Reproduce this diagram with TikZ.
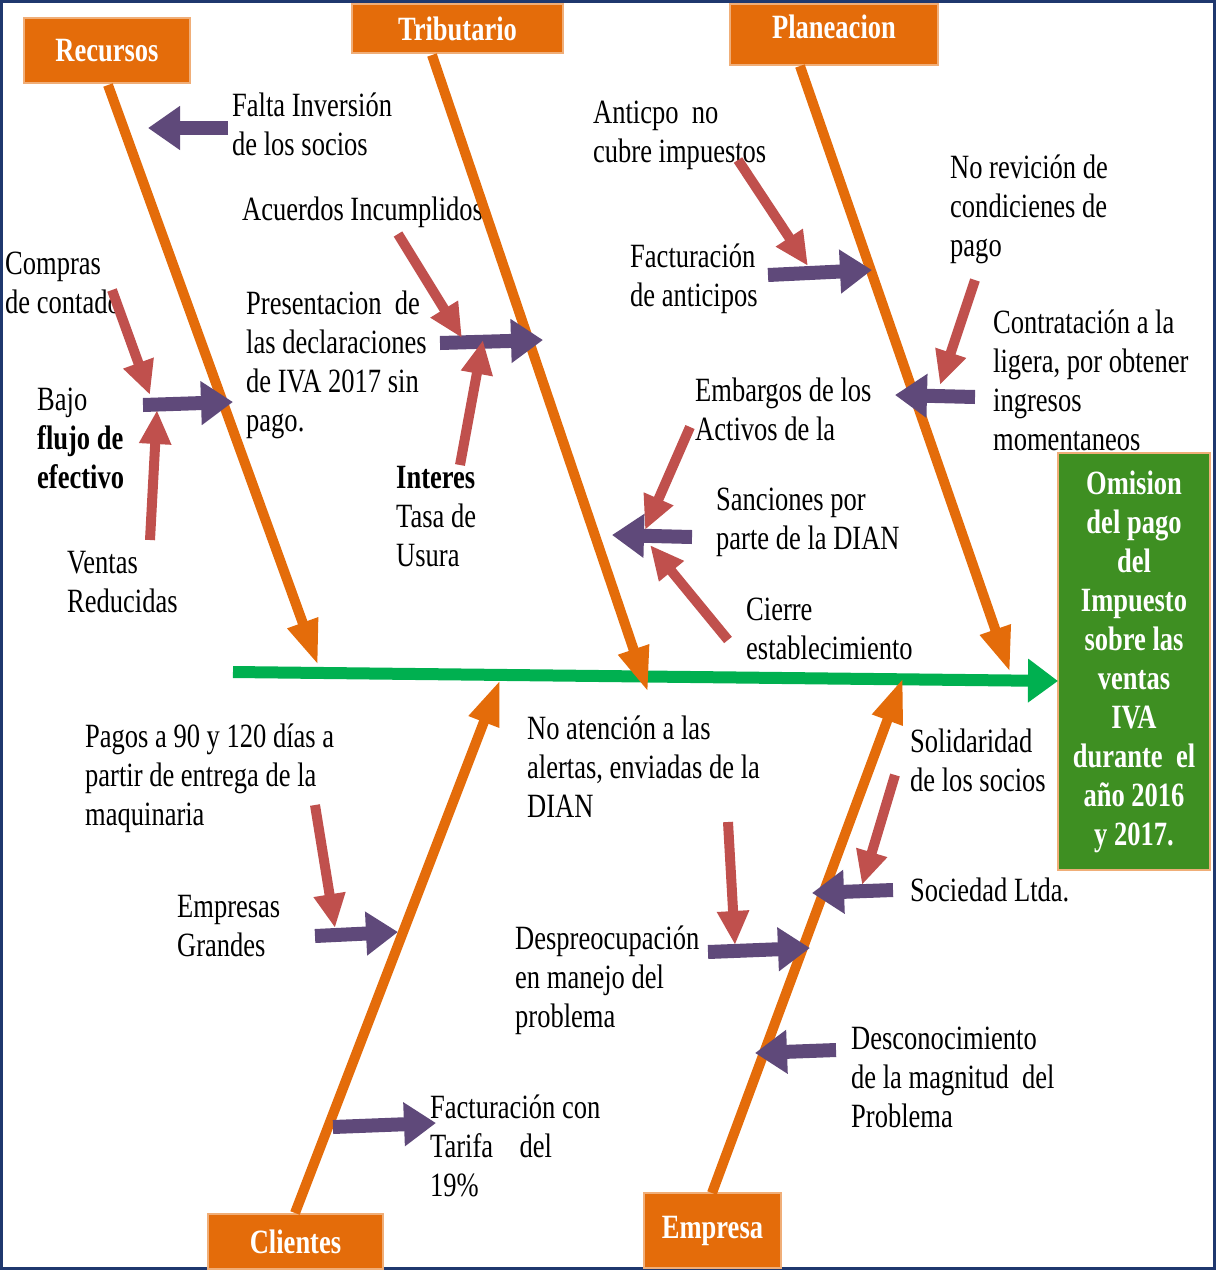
\documentclass[tikz,border=0pt]{standalone}
\usepackage{fontspec}
\setmainfont{Liberation Serif}[FakeStretch=0.78]
\usetikzlibrary{arrows.meta}
\definecolor{bone}{RGB}{228,108,10}
\definecolor{spine}{RGB}{0,176,80}
\definecolor{cause}{RGB}{95,73,122}
\definecolor{subcause}{RGB}{192,80,77}
\definecolor{effect}{RGB}{62,143,34}
\definecolor{frame}{RGB}{31,56,110}

\tikzset{
  lbl/.style={anchor=north west, inner sep=0pt, align=left,
    font=\fontsize{34}{39}\selectfont, execute at begin node=\strut},
  head/.style={fill=bone, draw=bone!55!white, line width=1.5pt, text=white,
    font=\fontsize{34}{39}\selectfont\bfseries, inner sep=0pt},
  bonearrow/.style={draw=bone, line width=10pt, -{Triangle[length=45pt,width=30pt]}},
  causearrow/.style={draw=cause, line width=14pt, -{Triangle[length=32pt,width=42pt]}},
  subarrow/.style={draw=subcause, line width=10pt, -{Triangle[length=34pt,width=30pt]}}
}

\begin{document}
\begin{tikzpicture}[x=1pt, y=-1pt]
  \useasboundingbox (0,0) rectangle (1216,1270);
  \draw[frame, line width=3pt] (1.5,1.5) rectangle (1214.5,1268.5);

  % heads and effect
  \node[head, minimum width=166pt, minimum height=65pt] (rec) at (107,50.5) {Recursos};
  \node[head, minimum width=211pt, minimum height=49pt] (tri) at (457.5,28.5) {Tributario};
  \node[head, minimum width=208pt, minimum height=61pt, text height=24pt, text depth=17pt] (pla) at (834,34.5) {Planeacion};
  \node[head, minimum width=175pt, minimum height=55pt] (cli) at (295.5,1241.5) {Clientes};
  \node[head, minimum width=137pt, minimum height=75pt] (emp) at (712.5,1230.5) {Empresa};
  \node[head, fill=effect, minimum width=152pt, minimum height=417pt, align=center] (eff) at (1134,661.5)
    {Omision\\del pago\\del\\Impuesto\\sobre las\\ventas\\IVA\\durante\ \ el\\año 2016\\y 2017.};

  % labels
  \node[lbl] (falta) at (232,93) {Falta Inversión\\de los socios};
  \node[lbl] (acu) at (242,193) {Acuerdos Incumplidos};
  \node[lbl] (com) at (5,252) {Compras\\de contado};
  \node[lbl] (baj) at (37,388) {Bajo\\\textbf{flujo de}\\\textbf{efectivo}};
  \node[lbl] (ven) at (67,551) {Ventas\\Reducidas};
  \node[lbl] (pre) at (246,291) {Presentacion\ \ de\\las declaraciones\\de IVA 2017 sin\\pago.};
  \node[lbl] (int) at (396,466) {\textbf{Interes}\\Tasa de\\Usura};
  \node[lbl] (ant) at (593,101) {Anticpo\ \ no\\cubre impuestos};
  \node[lbl] (fac) at (630,244) {Facturación\\de anticipos};
  \node[lbl] (rev) at (950,155) {No revición de\\condicienes de\\pago};
  \node[lbl] (con) at (993,310) {Contratación a la\\ligera, por obtener\\ingresos\\momentaneos};
  \node[lbl] (emb) at (695,378) {Embargos de los\\Activos de la};
  \node[lbl] (san) at (716,488) {Sanciones por\\parte de la DIAN};
  \node[lbl] (cie) at (746,598) {Cierre\\establecimiento};
  \node[lbl] (pag) at (85,724) {Pagos a 90 y 120 días a\\partir de entrega de la\\maquinaria};
  \node[lbl] (ale) at (527,716) {No atención a las\\alertas, enviadas de la\\DIAN};
  \node[lbl] (sol) at (910,729) {Solidaridad\\de los socios};
  \node[lbl] (gra) at (177,895) {Empresas\\Grandes};
  \node[lbl] (soc) at (910,874) {Sociedad Ltda.};
  \node[lbl] (des) at (515,926) {Despreocupación\\en manejo del\\problema};
  \node[lbl] (mag) at (851,1027) {Desconocimiento\\de la magnitud\ \ del\\Problema};
  \node[lbl] (tar) at (430,1095) {Facturación con\\Tarifa\ \ \ \ del\\19\%};

  % spine and bones
  \coordinate (sp0) at (233,672);
  \coordinate (sp1) at (1058,681);
  \draw[spine, line width=12pt, -{Triangle[length=30pt,width=42pt]}] (sp0) -- (sp1);
  \foreach \n/\a/\b in {rec/{108,85}/{318,665}, tri/{432,55}/{648,692},
      pla/{800,66}/{1010,672}, cli/{295,1213}/{500,680}, emp/{712,1193}/{903,678}}{
    \coordinate (\n0) at (\a);
    \coordinate (\n1) at (\b);
    \draw[bonearrow] (\n0) -- (\n1);
  }

  % causes
  \foreach \n/\a/\b in {falta/{228,128}/{148,128}, baj/{143,405}/{233,402},
      pre/{440,343}/{543,340}, fac/{768,275}/{872,270}, con/{975,397}/{895,395},
      san/{692,537}/{612,535}, gra/{315,936}/{398,932}, tar/{333,1127}/{436,1123},
      des/{708,952}/{810,948}, soc/{893,890}/{812,893}, mag/{836,1050}/{755,1053}}{
    \coordinate (\n0) at (\a);
    \coordinate (\n1) at (\b);
    \draw[causearrow] (\n0) -- (\n1);
  }

  % sub-causes
  \foreach \n/\a/\b in {com/{112,290}/{150,395}, ven/{150,540}/{157,410},
      acu/{398,234}/{462,338}, int/{460,465}/{483,340}, ant/{738,160}/{808,266},
      rev/{975,280}/{940,385}, emb/{690,427}/{645,530}, cie/{728,640}/{650,545},
      pag/{315,805}/{335,928}, ale/{728,822}/{735,945}, sol/{895,775}/{862,885}}{
    \coordinate (\n2) at (\a);
    \coordinate (\n3) at (\b);
    \draw[subarrow] (\n2) -- (\n3);
  }
\end{tikzpicture}
\end{document}
